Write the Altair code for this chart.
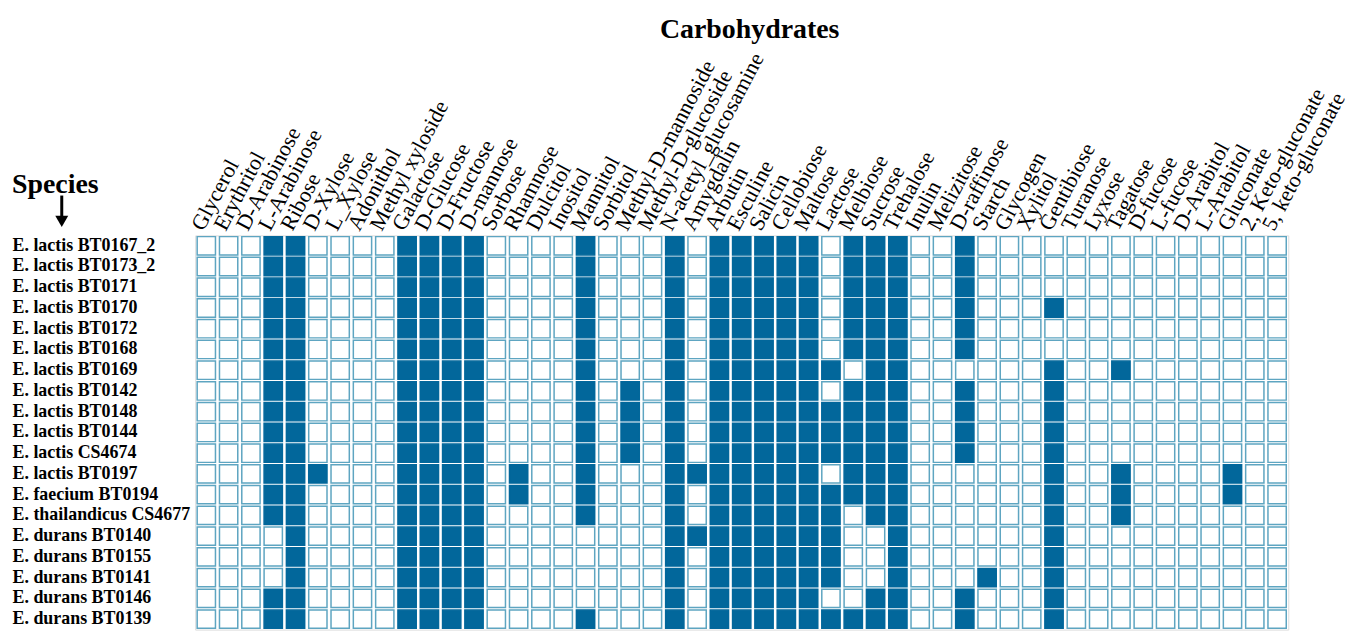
import altair as alt
import pandas as pd

species = [
    "E. lactis BT0167_2", "E. lactis BT0173_2", "E. lactis BT0171", "E. lactis BT0170",
    "E. lactis BT0172", "E. lactis BT0168", "E. lactis BT0169", "E. lactis BT0142",
    "E. lactis BT0148", "E. lactis BT0144", "E. lactis CS4674", "E. lactis BT0197",
    "E. faecium BT0194", "E. thailandicus CS4677", "E. durans BT0140", "E. durans BT0155",
    "E. durans BT0141", "E. durans BT0146", "E. durans BT0139",
]

carbs = [
    "Glycerol", "Erythritol", "D-Arabinose", "L-Arabinose", "Ribose", "D-Xylose", "L_Xylose",
    "Adonithol", "Methyl xyloside", "Galactose", "D-Glucose", "D-Fructose", "D-mannose",
    "Sorbose", "Rhamnose", "Dulcitol", "Inositol", "Mannitol", "Sorbitol",
    "Methyl-D-mannoside", "Methyl-D-glucoside", "N-acetyl_glucosamine", "Amygdalin",
    "Arbutin", "Esculine", "Salicin", "Cellobiose", "Maltose", "Lactose", "Melbiose",
    "Sucrose", "Trehalose", "Inulin", "Melizitose", "D-raffinose", "Starch", "Glycogen",
    "Xylitol", "Gentibiose", "Turanose", "Lyxose", "Tagatose", "D-fucose", "L-fucose",
    "D-Arabitol", "L-Arabitol", "Gluconate", "2, Keto-gluconate", "5, keto-gluconate",
]

# indices of carbohydrates fermented (filled cell) for each species, in species order
filled = [
    [3, 4, 9, 10, 11, 12, 17, 21, 23, 24, 25, 26, 27, 29, 30, 31, 34],
    [3, 4, 9, 10, 11, 12, 17, 21, 23, 24, 25, 26, 27, 29, 30, 31, 34],
    [3, 4, 9, 10, 11, 12, 17, 21, 23, 24, 25, 26, 27, 29, 30, 31, 34],
    [3, 4, 9, 10, 11, 12, 17, 21, 23, 24, 25, 26, 27, 29, 30, 31, 34, 38],
    [3, 4, 9, 10, 11, 12, 17, 21, 23, 24, 25, 26, 27, 29, 30, 31, 34],
    [3, 4, 9, 10, 11, 12, 17, 21, 23, 24, 25, 26, 27, 29, 30, 31, 34],
    [3, 4, 9, 10, 11, 12, 17, 21, 23, 24, 25, 26, 27, 28, 30, 31, 38, 41],
    [3, 4, 9, 10, 11, 12, 17, 19, 21, 23, 24, 25, 26, 27, 29, 30, 31, 34, 38],
    [3, 4, 9, 10, 11, 12, 17, 19, 21, 23, 24, 25, 26, 27, 28, 29, 30, 31, 34, 38],
    [3, 4, 9, 10, 11, 12, 17, 19, 21, 23, 24, 25, 26, 27, 28, 29, 30, 31, 34, 38],
    [3, 4, 9, 10, 11, 12, 17, 19, 21, 23, 24, 25, 26, 27, 28, 29, 30, 31, 34, 38],
    [3, 4, 5, 9, 10, 11, 12, 14, 17, 21, 22, 23, 24, 25, 26, 27, 29, 30, 31, 38, 41, 46],
    [3, 4, 9, 10, 11, 12, 14, 17, 21, 23, 24, 25, 26, 27, 28, 29, 30, 31, 38, 41, 46],
    [3, 4, 9, 10, 11, 12, 17, 21, 23, 24, 25, 26, 27, 28, 30, 31, 38, 41],
    [4, 9, 10, 11, 12, 21, 22, 23, 24, 25, 26, 27, 28, 31, 38],
    [4, 9, 10, 11, 12, 21, 23, 24, 25, 26, 27, 28, 31, 38],
    [4, 9, 10, 11, 12, 21, 23, 24, 25, 26, 27, 28, 31, 35, 38],
    [3, 4, 9, 10, 11, 12, 21, 23, 24, 25, 26, 27, 30, 31, 34, 38],
    [3, 4, 9, 10, 11, 12, 17, 21, 23, 24, 25, 26, 27, 28, 29, 30, 31, 34, 38],
]

rows = []
for si, sp in enumerate(species):
    for ci, cb in enumerate(carbs):
        rows.append({"species": sp, "carb": cb, "pos": 1 if ci in filled[si] else 0})
df = pd.DataFrame(rows)

DARK = "#02679b"
EDGE = "#5ea5c1"
SERIF = "Liberation Serif"

cells = alt.Chart(df).mark_rect(strokeWidth=1.5).encode(
    x=alt.X("carb:N", sort=carbs,
            scale=alt.Scale(paddingInner=0.18, paddingOuter=0.09),
            axis=alt.Axis(orient="top", title=None, labelAngle=298, labelAlign="left",
                          labelBaseline="alphabetic", labelOffset=-3, labelPadding=4,
                          labelFont=SERIF, labelFontSize=22, labelColor="black",
                          labelLimit=400, labelOverlap=False, ticks=False, domain=False)),
    y=alt.Y("species:N", sort=species,
            scale=alt.Scale(paddingInner=0.12, paddingOuter=0.06),
            axis=alt.Axis(title=None, labelAlign="left", labelPadding=184,
                          labelFont=SERIF, labelFontSize=18, labelFontWeight="bold",
                          labelColor="black", labelLimit=400, ticks=False, domain=False)),
    fill=alt.condition(alt.datum.pos == 1, alt.value(DARK), alt.value("white")),
    stroke=alt.condition(alt.datum.pos == 1, alt.value(DARK), alt.value(EDGE)),
)

title = alt.Chart(pd.DataFrame({"t": ["Carbohydrates"]})).mark_text(
    font=SERIF, fontSize=28, fontWeight="bold", align="center", baseline="alphabetic",
    color="black"
).encode(text="t:N", x=alt.value(557), y=alt.value(-198))

spec_lbl = alt.Chart(pd.DataFrame({"t": ["Species"]})).mark_text(
    font=SERIF, fontSize=28, fontWeight="bold", align="left", baseline="alphabetic",
    color="black"
).encode(text="t:N", x=alt.value(-184), y=alt.value(-43))

shaft = alt.Chart(pd.DataFrame({"t": [0]})).mark_rule(strokeWidth=3, color="black").encode(
    x=alt.value(-134), y=alt.value(-40), y2=alt.value(-18))

head = alt.Chart(pd.DataFrame({"t": [0]})).mark_point(
    shape="triangle-down", filled=True, size=170, color="black", opacity=1
).encode(x=alt.value(-134), y=alt.value(-14))

chart = alt.layer(cells, title, spec_lbl, shaft, head).properties(
    width=1098, height=396,
    autosize=alt.AutoSizeParams(type="none"),
    padding={"left": 188, "top": 227, "right": 58, "bottom": 0},
).configure_view(stroke=None).configure(background="white")

chart.save("out.html", embed_options={"renderer": "svg", "actions": False})
